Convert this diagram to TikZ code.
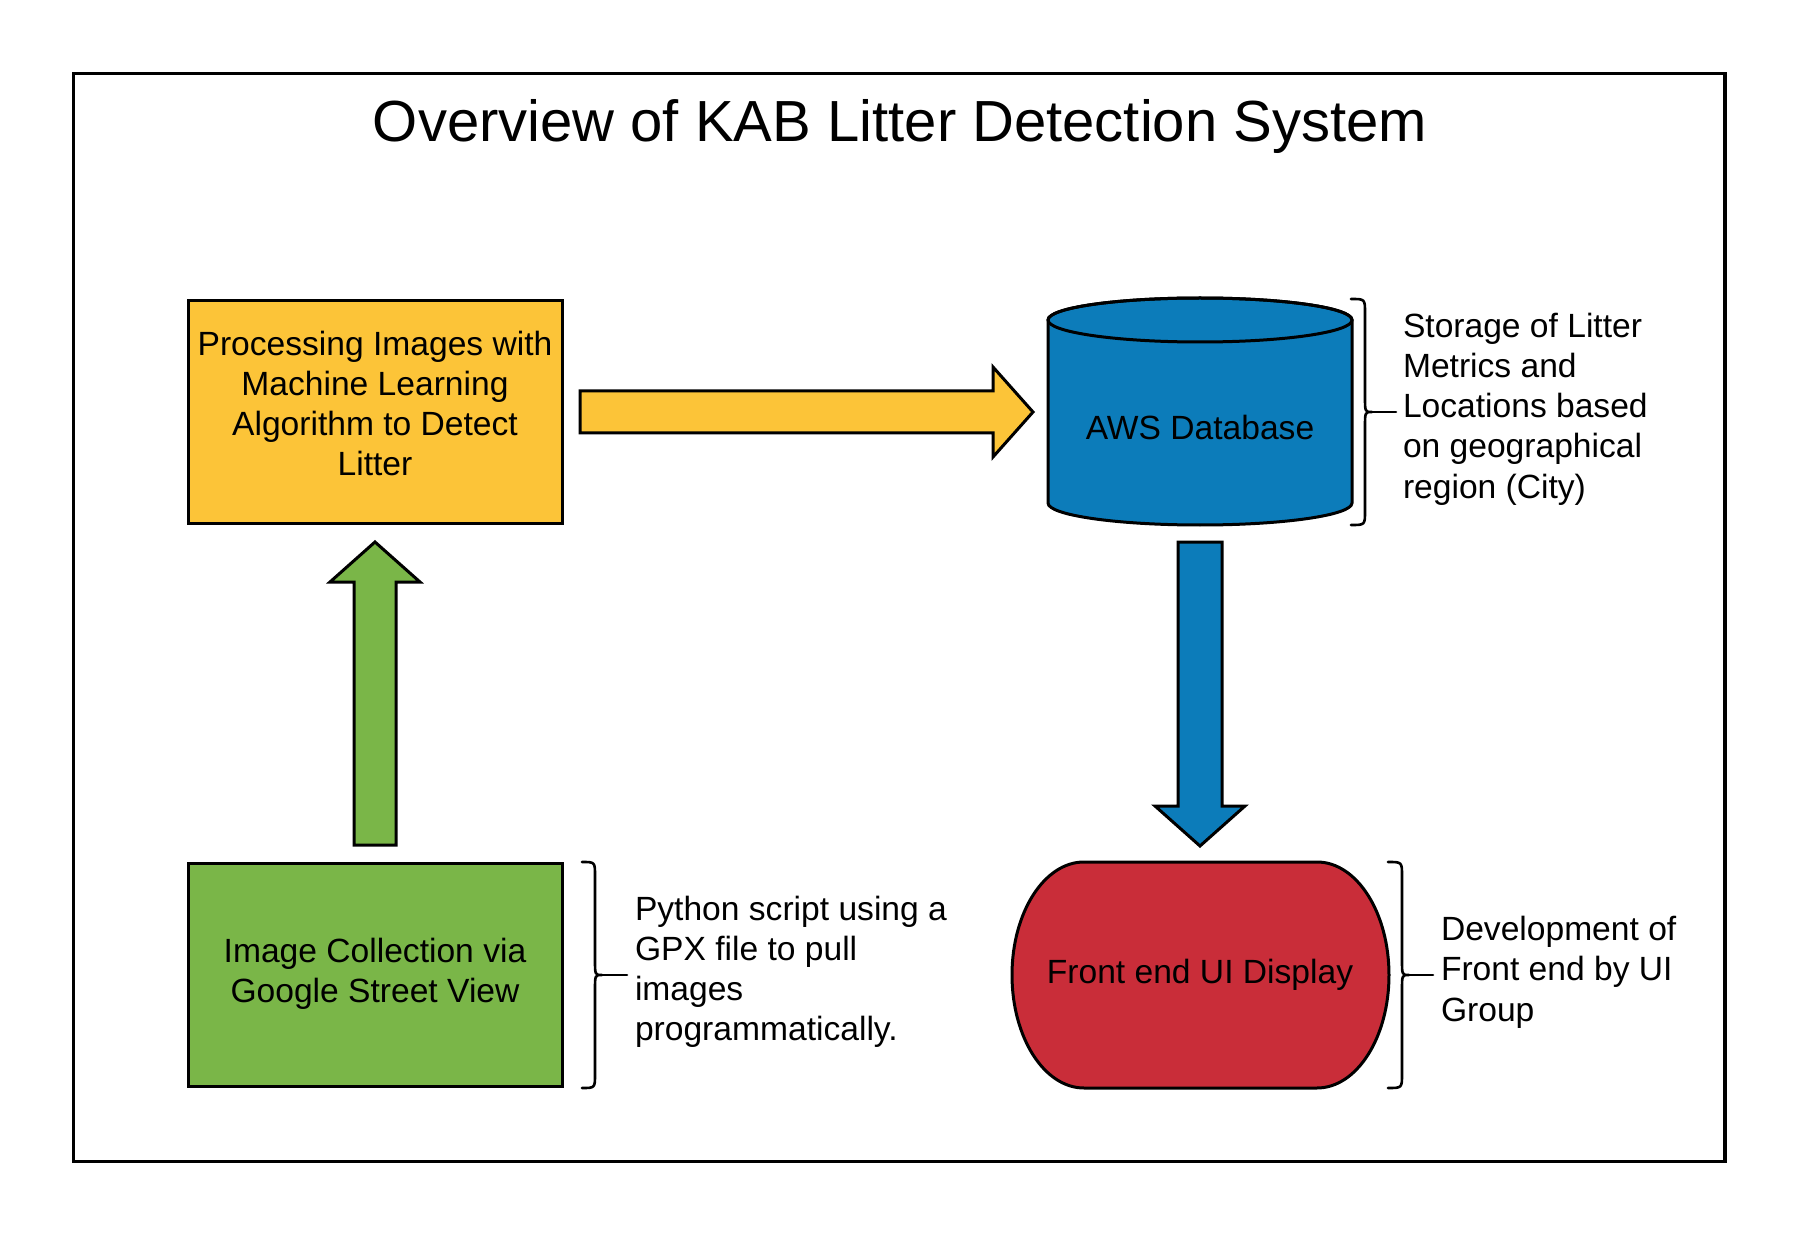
\documentclass[tikz,border=0pt]{standalone}
\usepackage{fontspec}
\setmainfont{Liberation Sans}
\usetikzlibrary{calc}
\pgfdeclarelayer{background}
\pgfsetlayers{background,main}

\definecolor{lyellow}{HTML}{FCC438}
\definecolor{lgreen}{HTML}{7AB648}
\definecolor{lblue}{HTML}{0C7CBA}
\definecolor{lred}{HTML}{C92D39}

\newcommand\tst[1]{\rule{0pt}{#1pt}}
\newcommand\bst[1]{\rule[-#1pt]{0pt}{#1pt}}

\begin{document}
\begin{tikzpicture}[x=1pt,y=-1pt,
  txt/.style={font=\fontsize{33.6}{40.25}\selectfont, inner sep=0pt, outer sep=0pt, text=black},
  procbox/.style={txt, draw=black, line width=3pt, minimum width=374pt, minimum height=223pt, align=center},
  plainbox/.style={txt, minimum width=304pt, minimum height=226pt, align=center},
  shapeline/.style={draw=black, line width=3pt, line join=miter},
  blockarrow/.style={draw=black, line width=3pt, line join=miter},
  bracestyle/.style={draw=black, line width=2.6pt, line cap=round, line join=round},
  note/.style={txt, align=left, anchor=north west},
]
\useasboundingbox (0,0) rectangle (1800,1238);

% frame
\draw[line width=3.3pt] (73.7,73.7) rectangle (1725,1161.7);

% title
\node[font=\fontsize{58}{70}\selectfont, anchor=base, inner sep=0pt] (title) at (900,142) {Overview of KAB Litter Detection System};

% boxes
\node[procbox, fill=lyellow] (proc) at (375,412) {\tst{25}Processing Images with\\ Machine Learning\\ Algorithm to Detect\\ Litter\bst{18.25}};
\node[procbox, fill=lgreen] (img) at (375,975) {\tst{25}Image Collection via\\ Google Street View\bst{10}};
\node[plainbox] (db) at (1200,412) {\tst{65}AWS Database\bst{9}};
\node[plainbox, minimum width=377pt] (ui) at (1200,975) {\tst{25}Front end UI Display\bst{9}};

\begin{pgfonlayer}{background}
\fill[white] (0,0) rectangle (1800,1238);
% cylinder
\path[shapeline, fill=lblue] (1048,320) -- (1048,503)
  arc[start angle=180, end angle=360, x radius=152pt, y radius=22pt]
  -- (1352,320)
  arc[start angle=0, end angle=180, x radius=152pt, y radius=22pt] -- cycle;
\draw[shapeline] (1200,320) ellipse[x radius=152pt, y radius=22pt];
% front end shape
\path[shapeline, fill=lred] (1084,862) -- (1317,862)
  arc[start angle=90, end angle=-90, x radius=72pt, y radius=113pt]
  -- (1084,1088)
  arc[start angle=270, end angle=90, x radius=72pt, y radius=113pt] -- cycle;
\end{pgfonlayer}

% block arrows
\draw[blockarrow, fill=lyellow] ($(proc.east)+(18,-21)$) -- ++(413,0) -- ++(0,-24) -- ++(40,45) -- ++(-40,45) -- ++(0,-24) -- ++(-413,0) -- cycle;
\draw[blockarrow, fill=lblue] ($(db.south)+(-22,17)$) -- ++(0,264) -- ++(-23,0) -- ++(45,40) -- ++(45,-40) -- ++(-23,0) -- ++(0,-264) -- cycle;
\draw[blockarrow, fill=lgreen] ($(img.north)+(-21,-18.5)$) -- ++(0,-263) -- ++(-24,0) -- ++(45,-40) -- ++(45,40) -- ++(-24,0) -- ++(0,263) -- cycle;

% braces
\draw[bracestyle] (1351,299) .. controls (1365,299) .. (1365,313) -- (1365,397)
  .. controls (1365,412) .. (1372,412) .. controls (1365,412) .. (1365,427)
  -- (1365,511) .. controls (1365,525) .. (1351,525);
\draw[bracestyle] (1372,412) -- (1396,412);
\draw[bracestyle] (582,862) .. controls (595,862) .. (595,876) -- (595,960)
  .. controls (595,975) .. (602,975) .. controls (595,975) .. (595,990)
  -- (595,1074) .. controls (595,1088) .. (582,1088);
\draw[bracestyle] (602,975) -- (627,975);
\draw[bracestyle] (1388,862) .. controls (1402,862) .. (1402,876) -- (1402,960)
  .. controls (1402,975) .. (1409,975) .. controls (1402,975) .. (1402,990)
  -- (1402,1074) .. controls (1402,1088) .. (1388,1088);
\draw[bracestyle] (1409,975) -- (1433,975);

% notes
\node[note] (storage) at (1403,312) {\tst{25}Storage of Litter\\ Metrics and\\ Locations based\\ on geographical\\ region (City)};
\node[note] (python) at (635,895) {\tst{25}Python script using a\\ GPX file to pull\\ images\\ programmatically.};
\node[note] (dev) at (1441,915.5) {\tst{25}Development of\\ Front end by UI\\ Group};
\end{tikzpicture}
\end{document}
